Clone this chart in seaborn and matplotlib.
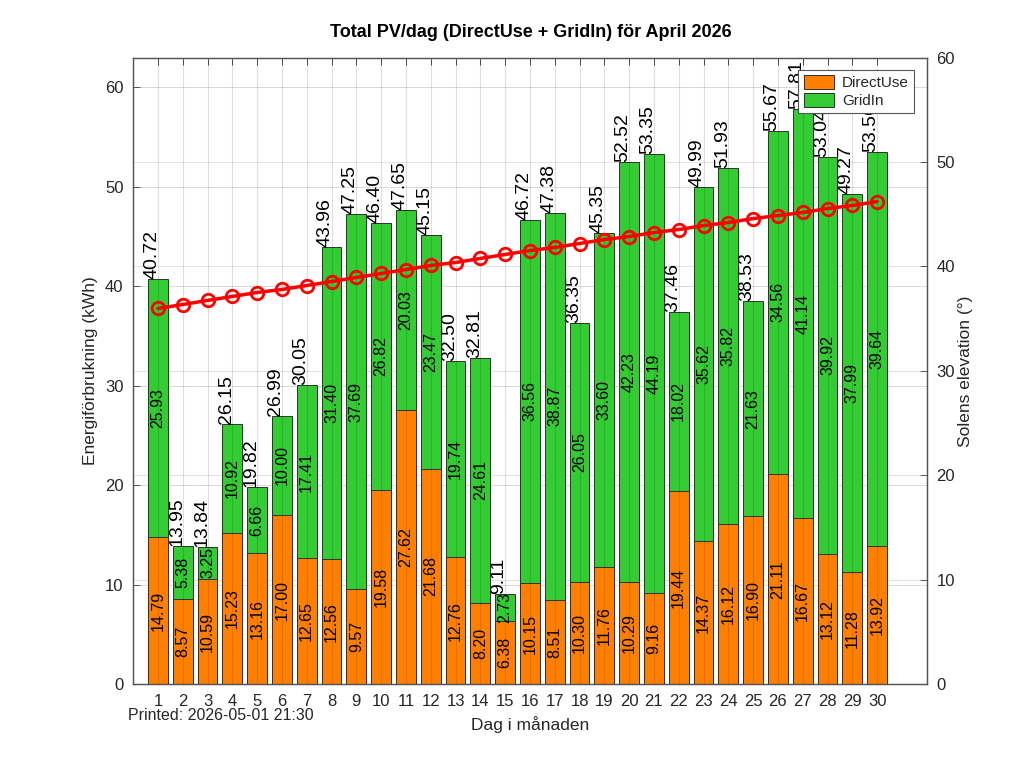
import pandas as pd
import seaborn as sns
import matplotlib
matplotlib.use("Agg")
import matplotlib.pyplot as plt

days = list(range(1, 31))
direct_use = [14.79, 8.57, 10.59, 15.23, 13.16, 17.00, 12.65, 12.56, 9.57, 19.58,
              27.62, 21.68, 12.76, 8.20, 6.38, 10.15, 8.51, 10.30, 11.76, 10.29,
              9.16, 19.44, 14.37, 16.12, 16.90, 21.11, 16.67, 13.12, 11.28, 13.92]
grid_in = [25.93, 5.38, 3.25, 10.92, 6.66, 10.00, 17.41, 31.40, 37.69, 26.82,
           20.03, 23.47, 19.74, 24.61, 2.73, 36.56, 38.87, 26.05, 33.60, 42.23,
           44.19, 18.02, 35.62, 35.82, 21.63, 34.56, 41.14, 39.92, 37.99, 39.64]
totals = [40.72, 13.95, 13.84, 26.15, 19.82, 26.99, 30.05, 43.96, 47.25, 46.40,
          47.65, 45.15, 32.50, 32.81, 9.11, 46.72, 47.38, 36.35, 45.35, 52.52,
          53.35, 37.46, 49.99, 51.93, 38.53, 55.67, 57.81, 53.04, 49.27, 53.56]
sun_elevation = [35.98, 36.36, 36.75, 37.13, 37.51, 37.80, 38.18, 38.56, 38.95, 39.33,
                 39.71, 40.10, 40.38, 40.77, 41.15, 41.53, 41.82, 42.20, 42.58, 42.87,
                 43.25, 43.54, 43.92, 44.21, 44.59, 44.88, 45.17, 45.55, 45.84, 46.22]

ORANGE = "#FF8000"
GREEN = "#33CC33"
TXT = "#262626"
SPINE = "#555555"
RECT = [0.13, 0.109, 0.775, 0.816]


def make_df():
    return pd.DataFrame({"day": days, "DirectUse": direct_use, "GridIn": grid_in,
                         "total": totals, "elev": sun_elevation})


def style_spines(a):
    for sp in a.spines.values():
        sp.set_color(SPINE)
        sp.set_linewidth(0.9)


def main():
    sns.set_style("white")
    plt.rcParams['font.family'] = ['Liberation Sans', 'DejaVu Sans']
    df = make_df()

    fig = plt.figure(figsize=(10.24, 7.68), dpi=100)

    # background axes only for the right-axis grid (kept behind the bars)
    ax_bg = fig.add_axes(RECT)
    ax_bg.set_xlim(0, 32)
    ax_bg.set_ylim(0, 60)
    ax_bg.set_yticks(range(0, 61, 10))
    ax_bg.set_xticks([])
    ax_bg.grid(True, axis="y", color="#e3e3e3", linewidth=0.7)
    ax_bg.tick_params(left=False, labelleft=False, bottom=False, labelbottom=False)
    for sp in ax_bg.spines.values():
        sp.set_visible(False)

    ax = fig.add_axes(RECT)
    ax.patch.set_visible(False)

    # stacked look: totals in green, DirectUse drawn on top in orange
    sns.barplot(data=df, x="day", y="total", native_scale=True, width=0.8,
                color=GREEN, saturation=1, edgecolor="#303030", linewidth=0.7,
                ax=ax, label="GridIn", zorder=2)
    sns.barplot(data=df, x="day", y="DirectUse", native_scale=True, width=0.8,
                color=ORANGE, saturation=1, edgecolor="#303030", linewidth=0.7,
                ax=ax, label="DirectUse", zorder=2)
    if ax.get_legend() is not None:
        ax.get_legend().remove()

    # faint vertical grid drawn over the bars
    ax.vlines(days, 0, 63, color="black", alpha=0.13, linewidth=0.8, zorder=3)

    for d, du, gi, tot in zip(df["day"], df["DirectUse"], df["GridIn"], df["total"]):
        ax.text(d, du / 2, "{:.2f}".format(du), rotation=90, ha="center", va="center",
                fontsize=11.5, color="black", zorder=4, clip_on=True)
        ax.text(d, du + gi / 2, "{:.2f}".format(gi), rotation=90, ha="center", va="center",
                fontsize=11.5, color="black", zorder=4, clip_on=True)
        ax.text(d + 0.1, tot, "{:.2f}".format(tot), rotation=90, ha="right", va="bottom",
                fontsize=14, color="black", zorder=4, clip_on=True)

    ax.set_xlim(0, 32)
    ax.set_ylim(0, 63)
    ax.set_xticks(days)
    ax.set_xticklabels([str(d) for d in days])
    ax.set_yticks(range(0, 61, 10))
    ax.set_xlabel("Dag i månaden", fontsize=12.5, color=TXT, labelpad=5)
    ax.set_ylabel("Energiförbrukning (kWh)", fontsize=12.5, color=TXT, labelpad=5)
    ax.tick_params(direction="in", top=True, right=True, labelsize=12, labelcolor=TXT,
                   color=SPINE, length=5, width=0.7)
    ax.tick_params(axis="x", pad=7)
    ax.tick_params(axis="y", pad=7)
    ax.grid(True, axis="y", color="#d9d9d9", linewidth=0.7, zorder=0)
    ax.set_axisbelow(True)
    style_spines(ax)

    ax2 = ax.twinx()
    sns.lineplot(x=days, y=sun_elevation, ax=ax2, color="red", linewidth=2.5,
                 marker="o", markersize=9, markerfacecolor="none",
                 markeredgecolor="red", markeredgewidth=2, zorder=5)
    ax2.set_ylim(0, 60)
    ax2.set_yticks(range(0, 61, 10))
    ax2.set_ylabel("Solens elevation (°)", fontsize=12.5, color=TXT, labelpad=2)
    ax2.tick_params(direction="in", labelsize=12, labelcolor=TXT, color=SPINE,
                    length=5, width=0.7, pad=7)
    style_spines(ax2)

    handles, labels = ax.get_legend_handles_labels()
    order = [labels.index("DirectUse"), labels.index("GridIn")]
    leg = ax2.legend([handles[i] for i in order], [labels[i] for i in order],
                     loc="upper right", bbox_to_anchor=(0.984, 0.981), borderaxespad=0,
                     fontsize=11, fancybox=False, framealpha=1, edgecolor=SPINE,
                     handlelength=2.0, handleheight=1.0, handletextpad=0.5,
                     borderpad=0.35, labelspacing=0.2)
    leg.get_frame().set_linewidth(0.8)
    leg.set_zorder(10)

    fig.suptitle("Total PV/dag (DirectUse + GridIn) för April 2026", x=0.518, y=0.969,
                 fontsize=13, fontweight="bold", color="black")
    fig.text(0.125, 1 - 716 / 768, "Printed: 2026-05-01 21:30", fontsize=11.5,
             color=TXT, va="center", ha="left")

    fig.savefig("out.png", dpi=100)
    plt.close()


if __name__ == '__main__':
    main()
